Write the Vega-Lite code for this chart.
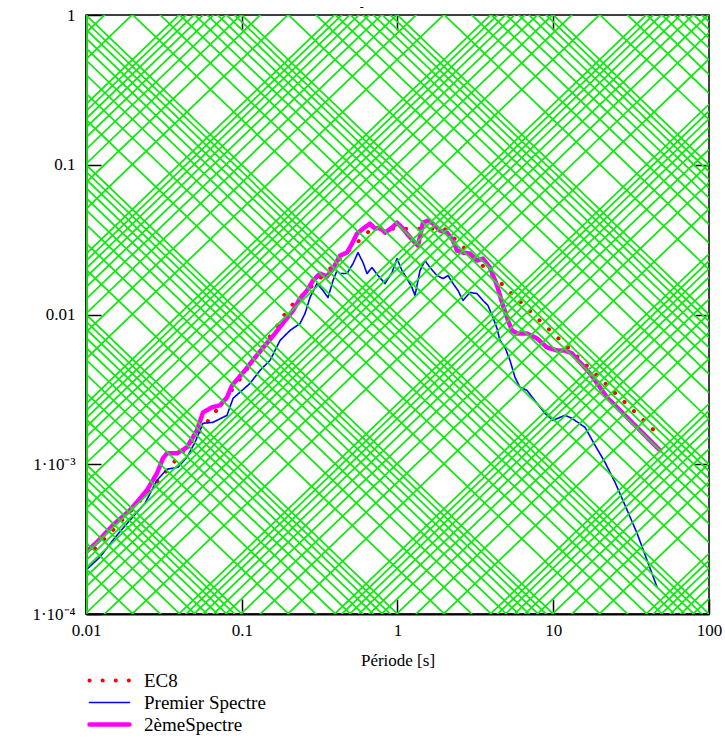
{
  "$schema": "https://vega.github.io/schema/vega-lite/v6.json",
  "width": 623,
  "height": 599,
  "autosize": {"type": "none"},
  "padding": {"left": 86, "top": 15, "right": 16, "bottom": 137},
  "background": "white",
  "config": {
    "font": "Liberation Serif, Times New Roman, serif",
    "view": {"stroke": "black", "strokeWidth": 1.5},
    "axis": {
      "grid": false,
      "domainColor": "black",
      "domainWidth": 2,
      "tickColor": "black",
      "tickWidth": 1.5,
      "labelColor": "black",
      "titleColor": "black",
      "labelFont": "Liberation Serif, Times New Roman, serif",
      "titleFont": "Liberation Serif, Times New Roman, serif",
      "titleFontWeight": "normal",
      "labelFlush": false,
      "labelOverlap": false
    }
  },
  "datasets": {
    "grid": [
      {"t0":0.0101,"v0":1e-4,"t1":0.0101,"v1":1},
      {"t0":0.01,"v0":1e-4,"t1":100,"v1":1e-8},{"t0":0.01,"v0":2e-4,"t1":100,"v1":2e-8},{"t0":0.01,"v0":3e-4,"t1":100,"v1":3e-8},{"t0":0.01,"v0":4e-4,"t1":100,"v1":4e-8},{"t0":0.01,"v0":5e-4,"t1":100,"v1":5e-8},{"t0":0.01,"v0":6e-4,"t1":100,"v1":6e-8},{"t0":0.01,"v0":7e-4,"t1":100,"v1":7e-8},{"t0":0.01,"v0":8e-4,"t1":100,"v1":8e-8},{"t0":0.01,"v0":9e-4,"t1":100,"v1":9e-8},
      {"t0":0.01,"v0":1e-3,"t1":100,"v1":1e-7},{"t0":0.01,"v0":2e-3,"t1":100,"v1":2e-7},{"t0":0.01,"v0":3e-3,"t1":100,"v1":3e-7},{"t0":0.01,"v0":4e-3,"t1":100,"v1":4e-7},{"t0":0.01,"v0":5e-3,"t1":100,"v1":5e-7},{"t0":0.01,"v0":6e-3,"t1":100,"v1":6e-7},{"t0":0.01,"v0":7e-3,"t1":100,"v1":7e-7},{"t0":0.01,"v0":8e-3,"t1":100,"v1":8e-7},{"t0":0.01,"v0":9e-3,"t1":100,"v1":9e-7},
      {"t0":0.01,"v0":1e-2,"t1":100,"v1":1e-6},{"t0":0.01,"v0":2e-2,"t1":100,"v1":2e-6},{"t0":0.01,"v0":3e-2,"t1":100,"v1":3e-6},{"t0":0.01,"v0":4e-2,"t1":100,"v1":4e-6},{"t0":0.01,"v0":5e-2,"t1":100,"v1":5e-6},{"t0":0.01,"v0":6e-2,"t1":100,"v1":6e-6},{"t0":0.01,"v0":7e-2,"t1":100,"v1":7e-6},{"t0":0.01,"v0":8e-2,"t1":100,"v1":8e-6},{"t0":0.01,"v0":9e-2,"t1":100,"v1":9e-6},
      {"t0":0.01,"v0":1e-1,"t1":100,"v1":1e-5},{"t0":0.01,"v0":2e-1,"t1":100,"v1":2e-5},{"t0":0.01,"v0":3e-1,"t1":100,"v1":3e-5},{"t0":0.01,"v0":4e-1,"t1":100,"v1":4e-5},{"t0":0.01,"v0":5e-1,"t1":100,"v1":5e-5},{"t0":0.01,"v0":6e-1,"t1":100,"v1":6e-5},{"t0":0.01,"v0":7e-1,"t1":100,"v1":7e-5},{"t0":0.01,"v0":8e-1,"t1":100,"v1":8e-5},{"t0":0.01,"v0":9e-1,"t1":100,"v1":9e-5},
      {"t0":0.01,"v0":1,"t1":100,"v1":1e-4},{"t0":0.01,"v0":2,"t1":100,"v1":2e-4},{"t0":0.01,"v0":3,"t1":100,"v1":3e-4},{"t0":0.01,"v0":4,"t1":100,"v1":4e-4},{"t0":0.01,"v0":5,"t1":100,"v1":5e-4},{"t0":0.01,"v0":6,"t1":100,"v1":6e-4},{"t0":0.01,"v0":7,"t1":100,"v1":7e-4},{"t0":0.01,"v0":8,"t1":100,"v1":8e-4},{"t0":0.01,"v0":9,"t1":100,"v1":9e-4},
      {"t0":0.01,"v0":10,"t1":100,"v1":1e-3},{"t0":0.01,"v0":20,"t1":100,"v1":2e-3},{"t0":0.01,"v0":30,"t1":100,"v1":3e-3},{"t0":0.01,"v0":40,"t1":100,"v1":4e-3},{"t0":0.01,"v0":50,"t1":100,"v1":5e-3},{"t0":0.01,"v0":60,"t1":100,"v1":6e-3},{"t0":0.01,"v0":70,"t1":100,"v1":7e-3},{"t0":0.01,"v0":80,"t1":100,"v1":8e-3},{"t0":0.01,"v0":90,"t1":100,"v1":9e-3},
      {"t0":0.01,"v0":100,"t1":100,"v1":1e-2},{"t0":0.01,"v0":200,"t1":100,"v1":2e-2},{"t0":0.01,"v0":300,"t1":100,"v1":3e-2},{"t0":0.01,"v0":400,"t1":100,"v1":4e-2},{"t0":0.01,"v0":500,"t1":100,"v1":5e-2},{"t0":0.01,"v0":600,"t1":100,"v1":6e-2},{"t0":0.01,"v0":700,"t1":100,"v1":7e-2},{"t0":0.01,"v0":800,"t1":100,"v1":8e-2},{"t0":0.01,"v0":900,"t1":100,"v1":9e-2},
      {"t0":0.01,"v0":1000,"t1":100,"v1":1e-1},{"t0":0.01,"v0":2000,"t1":100,"v1":2e-1},{"t0":0.01,"v0":3000,"t1":100,"v1":3e-1},{"t0":0.01,"v0":4000,"t1":100,"v1":4e-1},{"t0":0.01,"v0":5000,"t1":100,"v1":5e-1},{"t0":0.01,"v0":6000,"t1":100,"v1":6e-1},{"t0":0.01,"v0":7000,"t1":100,"v1":7e-1},{"t0":0.01,"v0":8000,"t1":100,"v1":8e-1},{"t0":0.01,"v0":9000,"t1":100,"v1":9e-1},

      {"t0":0.01,"v0":2.533e-9,"t1":100,"v1":2.533e-5},{"t0":0.01,"v0":5.066e-9,"t1":100,"v1":5.066e-5},{"t0":0.01,"v0":7.599e-9,"t1":100,"v1":7.599e-5},{"t0":0.01,"v0":1.0132e-8,"t1":100,"v1":1.0132e-4},{"t0":0.01,"v0":1.2665e-8,"t1":100,"v1":1.2665e-4},{"t0":0.01,"v0":1.5198e-8,"t1":100,"v1":1.5198e-4},{"t0":0.01,"v0":1.7731e-8,"t1":100,"v1":1.7731e-4},{"t0":0.01,"v0":2.0264e-8,"t1":100,"v1":2.0264e-4},{"t0":0.01,"v0":2.2797e-8,"t1":100,"v1":2.2797e-4},
      {"t0":0.01,"v0":2.533e-8,"t1":100,"v1":2.533e-4},{"t0":0.01,"v0":5.066e-8,"t1":100,"v1":5.066e-4},{"t0":0.01,"v0":7.599e-8,"t1":100,"v1":7.599e-4},{"t0":0.01,"v0":1.0132e-7,"t1":100,"v1":1.0132e-3},{"t0":0.01,"v0":1.2665e-7,"t1":100,"v1":1.2665e-3},{"t0":0.01,"v0":1.5198e-7,"t1":100,"v1":1.5198e-3},{"t0":0.01,"v0":1.7731e-7,"t1":100,"v1":1.7731e-3},{"t0":0.01,"v0":2.0264e-7,"t1":100,"v1":2.0264e-3},{"t0":0.01,"v0":2.2797e-7,"t1":100,"v1":2.2797e-3},
      {"t0":0.01,"v0":2.533e-7,"t1":100,"v1":2.533e-3},{"t0":0.01,"v0":5.066e-7,"t1":100,"v1":5.066e-3},{"t0":0.01,"v0":7.599e-7,"t1":100,"v1":7.599e-3},{"t0":0.01,"v0":1.0132e-6,"t1":100,"v1":1.0132e-2},{"t0":0.01,"v0":1.2665e-6,"t1":100,"v1":1.2665e-2},{"t0":0.01,"v0":1.5198e-6,"t1":100,"v1":1.5198e-2},{"t0":0.01,"v0":1.7731e-6,"t1":100,"v1":1.7731e-2},{"t0":0.01,"v0":2.0264e-6,"t1":100,"v1":2.0264e-2},{"t0":0.01,"v0":2.2797e-6,"t1":100,"v1":2.2797e-2},
      {"t0":0.01,"v0":2.533e-6,"t1":100,"v1":2.533e-2},{"t0":0.01,"v0":5.066e-6,"t1":100,"v1":5.066e-2},{"t0":0.01,"v0":7.599e-6,"t1":100,"v1":7.599e-2},{"t0":0.01,"v0":1.0132e-5,"t1":100,"v1":1.0132e-1},{"t0":0.01,"v0":1.2665e-5,"t1":100,"v1":1.2665e-1},{"t0":0.01,"v0":1.5198e-5,"t1":100,"v1":1.5198e-1},{"t0":0.01,"v0":1.7731e-5,"t1":100,"v1":1.7731e-1},{"t0":0.01,"v0":2.0264e-5,"t1":100,"v1":2.0264e-1},{"t0":0.01,"v0":2.2797e-5,"t1":100,"v1":2.2797e-1},
      {"t0":0.01,"v0":2.533e-5,"t1":100,"v1":2.533e-1},{"t0":0.01,"v0":5.066e-5,"t1":100,"v1":5.066e-1},{"t0":0.01,"v0":7.599e-5,"t1":100,"v1":7.599e-1},{"t0":0.01,"v0":1.0132e-4,"t1":100,"v1":1.0132},{"t0":0.01,"v0":1.2665e-4,"t1":100,"v1":1.2665},{"t0":0.01,"v0":1.5198e-4,"t1":100,"v1":1.5198},{"t0":0.01,"v0":1.7731e-4,"t1":100,"v1":1.7731},{"t0":0.01,"v0":2.0264e-4,"t1":100,"v1":2.0264},{"t0":0.01,"v0":2.2797e-4,"t1":100,"v1":2.2797},
      {"t0":0.01,"v0":2.533e-4,"t1":100,"v1":2.533},{"t0":0.01,"v0":5.066e-4,"t1":100,"v1":5.066},{"t0":0.01,"v0":7.599e-4,"t1":100,"v1":7.599},{"t0":0.01,"v0":1.0132e-3,"t1":100,"v1":10.132},{"t0":0.01,"v0":1.2665e-3,"t1":100,"v1":12.665},{"t0":0.01,"v0":1.5198e-3,"t1":100,"v1":15.198},{"t0":0.01,"v0":1.7731e-3,"t1":100,"v1":17.731},{"t0":0.01,"v0":2.0264e-3,"t1":100,"v1":20.264},{"t0":0.01,"v0":2.2797e-3,"t1":100,"v1":22.797},
      {"t0":0.01,"v0":2.533e-3,"t1":100,"v1":25.33},{"t0":0.01,"v0":5.066e-3,"t1":100,"v1":50.66},{"t0":0.01,"v0":7.599e-3,"t1":100,"v1":75.99},{"t0":0.01,"v0":1.0132e-2,"t1":100,"v1":101.32},{"t0":0.01,"v0":1.2665e-2,"t1":100,"v1":126.65},{"t0":0.01,"v0":1.5198e-2,"t1":100,"v1":151.98},{"t0":0.01,"v0":1.7731e-2,"t1":100,"v1":177.31},{"t0":0.01,"v0":2.0264e-2,"t1":100,"v1":202.64},{"t0":0.01,"v0":2.2797e-2,"t1":100,"v1":227.97},
      {"t0":0.01,"v0":2.533e-2,"t1":100,"v1":253.3},{"t0":0.01,"v0":5.066e-2,"t1":100,"v1":506.6},{"t0":0.01,"v0":7.599e-2,"t1":100,"v1":759.9},{"t0":0.01,"v0":1.0132e-1,"t1":100,"v1":1013.2},{"t0":0.01,"v0":1.2665e-1,"t1":100,"v1":1266.5},{"t0":0.01,"v0":1.5198e-1,"t1":100,"v1":1519.8},{"t0":0.01,"v0":1.7731e-1,"t1":100,"v1":1773.1},{"t0":0.01,"v0":2.0264e-1,"t1":100,"v1":2026.4},{"t0":0.01,"v0":2.2797e-1,"t1":100,"v1":2279.7},
      {"t0":0.01,"v0":2.533e-1,"t1":100,"v1":2533},{"t0":0.01,"v0":5.066e-1,"t1":100,"v1":5066},{"t0":0.01,"v0":7.599e-1,"t1":100,"v1":7599},{"t0":0.01,"v0":1.0132,"t1":100,"v1":10132},{"t0":0.01,"v0":1.2665,"t1":100,"v1":12665},{"t0":0.01,"v0":1.5198,"t1":100,"v1":15198},{"t0":0.01,"v0":1.7731,"t1":100,"v1":17731},{"t0":0.01,"v0":2.0264,"t1":100,"v1":20264},{"t0":0.01,"v0":2.2797,"t1":100,"v1":22797}
    ],
    "spectra": [
      {"s":"EC8","T":0.01,"Sv":2.361e-4},{"s":"EC8","T":0.015,"Sv":3.665e-4},{"s":"EC8","T":0.02,"Sv":5.05e-4},{"s":"EC8","T":0.03,"Sv":8.07e-4},{"s":"EC8","T":0.05,"Sv":1.51e-3},{"s":"EC8","T":0.07,"Sv":2.345e-3},{"s":"EC8","T":0.1,"Sv":3.844e-3},{"s":"EC8","T":0.15,"Sv":7.001e-3},{"s":"EC8","T":0.2,"Sv":1.098e-2},{"s":"EC8","T":0.68,"Sv":3.734e-2},{"s":"EC8","T":2.0,"Sv":3.734e-2},{"s":"EC8","T":5,"Sv":1.494e-2},{"s":"EC8","T":10,"Sv":7.47e-3},{"s":"EC8","T":20,"Sv":3.734e-3},{"s":"EC8","T":50,"Sv":1.494e-3},

      {"s":"Premier Spectre","T":0.01,"Sv":1.965e-4},{"s":"Premier Spectre","T":0.0123,"Sv":2.399e-4},{"s":"Premier Spectre","T":0.0149,"Sv":3.114e-4},{"s":"Premier Spectre","T":0.01728,"Sv":3.743e-4},{"s":"Premier Spectre","T":0.01917,"Sv":4.234e-4},{"s":"Premier Spectre","T":0.02392,"Sv":5.495e-4},{"s":"Premier Spectre","T":0.02857,"Sv":7.825e-4},{"s":"Premier Spectre","T":0.03312,"Sv":9.26e-4},{"s":"Premier Spectre","T":0.03897,"Sv":9.55e-4},{"s":"Premier Spectre","T":0.0445,"Sv":1.114e-3},{"s":"Premier Spectre","T":0.0501,"Sv":1.402e-3},{"s":"Premier Spectre","T":0.0564,"Sv":1.876e-3},{"s":"Premier Spectre","T":0.0654,"Sv":1.905e-3},{"s":"Premier Spectre","T":0.0804,"Sv":2.121e-3},{"s":"Premier Spectre","T":0.0879,"Sv":2.754e-3},{"s":"Premier Spectre","T":0.113,"Sv":3.467e-3},{"s":"Premier Spectre","T":0.131,"Sv":4.234e-3},{"s":"Premier Spectre","T":0.1519,"Sv":4.936e-3},{"s":"Premier Spectre","T":0.1761,"Sv":6.709e-3},{"s":"Premier Spectre","T":0.2041,"Sv":7.822e-3},{"s":"Premier Spectre","T":0.2366,"Sv":8.71e-3},{"s":"Premier Spectre","T":0.2548,"Sv":1.016e-2},{"s":"Premier Spectre","T":0.2743,"Sv":1.298e-2},{"s":"Premier Spectre","T":0.3042,"Sv":1.61e-2},{"s":"Premier Spectre","T":0.3324,"Sv":1.445e-2},{"s":"Premier Spectre","T":0.3579,"Sv":1.298e-2},{"s":"Premier Spectre","T":0.3854,"Sv":1.685e-2},{"s":"Premier Spectre","T":0.4088,"Sv":1.965e-2},{"s":"Premier Spectre","T":0.4274,"Sv":1.877e-2},{"s":"Premier Spectre","T":0.474,"Sv":1.877e-2},{"s":"Premier Spectre","T":0.518,"Sv":2.188e-2},{"s":"Premier Spectre","T":0.5577,"Sv":2.592e-2},{"s":"Premier Spectre","T":0.6005,"Sv":2.222e-2},{"s":"Premier Spectre","T":0.6371,"Sv":1.877e-2},{"s":"Premier Spectre","T":0.6859,"Sv":2.057e-2},{"s":"Premier Spectre","T":0.7496,"Sv":1.82e-2},{"s":"Premier Spectre","T":0.8313,"Sv":1.61e-2},{"s":"Premier Spectre","T":0.9219,"Sv":1.905e-2},{"s":"Premier Spectre","T":0.9926,"Sv":2.362e-2},{"s":"Premier Spectre","T":1.0687,"Sv":1.965e-2},{"s":"Premier Spectre","T":1.1507,"Sv":1.738e-2},{"s":"Premier Spectre","T":1.239,"Sv":1.514e-2},{"s":"Premier Spectre","T":1.2951,"Sv":1.339e-2},{"s":"Premier Spectre","T":1.3945,"Sv":1.965e-2},{"s":"Premier Spectre","T":1.5015,"Sv":2.291e-2},{"s":"Premier Spectre","T":1.6167,"Sv":2.057e-2},{"s":"Premier Spectre","T":1.7932,"Sv":1.82e-2},{"s":"Premier Spectre","T":1.9596,"Sv":1.738e-2},{"s":"Premier Spectre","T":2.1106,"Sv":1.82e-2},{"s":"Premier Spectre","T":2.2721,"Sv":1.61e-2},{"s":"Premier Spectre","T":2.4463,"Sv":1.445e-2},{"s":"Premier Spectre","T":2.6336,"Sv":1.24e-2},{"s":"Premier Spectre","T":2.9212,"Sv":1.402e-2},{"s":"Premier Spectre","T":3.239,"Sv":1.38e-2},{"s":"Premier Spectre","T":3.5393,"Sv":1.24e-2},{"s":"Premier Spectre","T":3.8111,"Sv":1.148e-2},{"s":"Premier Spectre","T":4.1035,"Sv":9.55e-3},{"s":"Premier Spectre","T":4.3532,"Sv":8.066e-3},{"s":"Premier Spectre","T":4.5507,"Sv":6.709e-3},{"s":"Premier Spectre","T":4.9,"Sv":6.026e-3},{"s":"Premier Spectre","T":5.276,"Sv":4.936e-3},{"s":"Premier Spectre","T":5.681,"Sv":3.802e-3},{"s":"Premier Spectre","T":6.1155,"Sv":3.261e-3},{"s":"Premier Spectre","T":6.7832,"Sv":3.114e-3},{"s":"Premier Spectre","T":7.8654,"Sv":2.55e-3},{"s":"Premier Spectre","T":8.8513,"Sv":2.188e-3},{"s":"Premier Spectre","T":9.9625,"Sv":1.965e-3},{"s":"Premier Spectre","T":11.897,"Sv":2.121e-3},{"s":"Premier Spectre","T":13.195,"Sv":2.026e-3},{"s":"Premier Spectre","T":15.989,"Sv":1.765e-3},{"s":"Premier Spectre","T":18.535,"Sv":1.339e-3},{"s":"Premier Spectre","T":21.49,"Sv":1.031e-3},{"s":"Premier Spectre","T":24.91,"Sv":7.586e-4},{"s":"Premier Spectre","T":28.88,"Sv":5.33e-4},{"s":"Premier Spectre","T":34.498,"Sv":3.467e-4},{"s":"Premier Spectre","T":39.99,"Sv":2.291e-4},{"s":"Premier Spectre","T":46.357,"Sv":1.514e-4},

      {"s":"2èmeSpectre","T":0.01,"Sv":2.59e-4},{"s":"2èmeSpectre","T":0.01177,"Sv":3.02e-4},{"s":"2èmeSpectre","T":0.0149,"Sv":3.92e-4},{"s":"2èmeSpectre","T":0.01917,"Sv":4.94e-4},{"s":"2èmeSpectre","T":0.02464,"Sv":6.71e-4},{"s":"2èmeSpectre","T":0.02857,"Sv":8.71e-4},{"s":"2èmeSpectre","T":0.03122,"Sv":1.097e-3},{"s":"2èmeSpectre","T":0.03312,"Sv":1.184e-3},{"s":"2èmeSpectre","T":0.0384,"Sv":1.184e-3},{"s":"2èmeSpectre","T":0.0445,"Sv":1.298e-3},{"s":"2èmeSpectre","T":0.0516,"Sv":1.685e-3},{"s":"2èmeSpectre","T":0.0564,"Sv":2.221e-3},{"s":"2èmeSpectre","T":0.0644,"Sv":2.399e-3},{"s":"2èmeSpectre","T":0.0725,"Sv":2.474e-3},{"s":"2èmeSpectre","T":0.0804,"Sv":2.797e-3},{"s":"2èmeSpectre","T":0.0866,"Sv":3.363e-3},{"s":"2èmeSpectre","T":0.1049,"Sv":4.234e-3},{"s":"2èmeSpectre","T":0.1217,"Sv":5.168e-3},{"s":"2èmeSpectre","T":0.1411,"Sv":6.213e-3},{"s":"2èmeSpectre","T":0.1635,"Sv":7.47e-3},{"s":"2èmeSpectre","T":0.1896,"Sv":9.12e-3},{"s":"2èmeSpectre","T":0.2134,"Sv":1.063e-2},{"s":"2èmeSpectre","T":0.2366,"Sv":1.278e-2},{"s":"2èmeSpectre","T":0.2624,"Sv":1.445e-2},{"s":"2èmeSpectre","T":0.2867,"Sv":1.685e-2},{"s":"2èmeSpectre","T":0.318,"Sv":1.877e-2},{"s":"2èmeSpectre","T":0.3527,"Sv":1.792e-2},{"s":"2èmeSpectre","T":0.3854,"Sv":2.026e-2},{"s":"2èmeSpectre","T":0.4274,"Sv":2.474e-2},{"s":"2èmeSpectre","T":0.474,"Sv":2.592e-2},{"s":"2èmeSpectre","T":0.5104,"Sv":2.974e-2},{"s":"2èmeSpectre","T":0.5495,"Sv":3.467e-2},{"s":"2èmeSpectre","T":0.6005,"Sv":3.744e-2},{"s":"2èmeSpectre","T":0.6659,"Sv":4.044e-2},{"s":"2èmeSpectre","T":0.717,"Sv":3.744e-2},{"s":"2èmeSpectre","T":0.772,"Sv":3.802e-2},{"s":"2èmeSpectre","T":0.8313,"Sv":3.521e-2},{"s":"2èmeSpectre","T":0.9219,"Sv":3.802e-2},{"s":"2èmeSpectre","T":0.9926,"Sv":4.106e-2},{"s":"2èmeSpectre","T":1.0687,"Sv":3.802e-2},{"s":"2èmeSpectre","T":1.1507,"Sv":3.467e-2},{"s":"2èmeSpectre","T":1.2574,"Sv":3.114e-2},{"s":"2èmeSpectre","T":1.3539,"Sv":2.884e-2},{"s":"2èmeSpectre","T":1.4578,"Sv":4.106e-2},{"s":"2èmeSpectre","T":1.5696,"Sv":4.234e-2},{"s":"2èmeSpectre","T":1.69,"Sv":4.044e-2},{"s":"2èmeSpectre","T":1.8745,"Sv":3.631e-2},{"s":"2èmeSpectre","T":2.0796,"Sv":3.521e-2},{"s":"2èmeSpectre","T":2.2721,"Sv":3.114e-2},{"s":"2èmeSpectre","T":2.4103,"Sv":2.672e-2},{"s":"2èmeSpectre","T":2.6336,"Sv":2.592e-2},{"s":"2èmeSpectre","T":2.9212,"Sv":2.551e-2},{"s":"2èmeSpectre","T":3.239,"Sv":2.291e-2},{"s":"2èmeSpectre","T":3.5393,"Sv":2.362e-2},{"s":"2èmeSpectre","T":3.9255,"Sv":2.057e-2},{"s":"2èmeSpectre","T":4.3532,"Sv":1.561e-2},{"s":"2èmeSpectre","T":4.7571,"Sv":1.148e-2},{"s":"2èmeSpectre","T":5.1222,"Sv":9.12e-3},{"s":"2èmeSpectre","T":5.435,"Sv":7.822e-3},{"s":"2èmeSpectre","T":5.852,"Sv":7.47e-3},{"s":"2èmeSpectre","T":6.7832,"Sv":7.47e-3},{"s":"2èmeSpectre","T":7.8654,"Sv":6.918e-3},{"s":"2èmeSpectre","T":9.1171,"Sv":6.026e-3},{"s":"2èmeSpectre","T":10.57,"Sv":5.754e-3},{"s":"2èmeSpectre","T":11.897,"Sv":5.754e-3},{"s":"2èmeSpectre","T":13.195,"Sv":5.495e-3},{"s":"2èmeSpectre","T":14.851,"Sv":4.786e-3},{"s":"2èmeSpectre","T":17.218,"Sv":4.044e-3},{"s":"2èmeSpectre","T":19.966,"Sv":3.261e-3},{"s":"2èmeSpectre","T":22.135,"Sv":2.797e-3},{"s":"2èmeSpectre","T":25.666,"Sv":2.399e-3},{"s":"2èmeSpectre","T":29.758,"Sv":2.057e-3},{"s":"2èmeSpectre","T":34.498,"Sv":1.765e-3},{"s":"2èmeSpectre","T":41.8,"Sv":1.445e-3},{"s":"2èmeSpectre","T":48.456,"Sv":1.24e-3}
    ],
    "heading": [
      {"T": 0.59, "Sv": 1.13, "txt": "-"}
    ]
  },
  "layer": [
    {
      "data": {"name": "spectra"},
      "mark": {"type": "line", "clip": true, "strokeCap": "round", "strokeJoin": "round"},
      "encoding": {
        "x": {
          "field": "T", "type": "quantitative",
          "scale": {"type": "log", "domain": [0.01, 100], "nice": false},
          "axis": {"orient": "bottom", "title": "Période [s]", "values": [0.01, 0.1, 1, 10, 100], "format": "~g", "tickSize": -15, "labelPadding": 23, "labelFontSize": 17, "titleFontSize": 17, "titlePadding": 14}
        },
        "y": {
          "field": "Sv", "type": "quantitative",
          "scale": {"type": "log", "domain": [0.0001, 1], "nice": false},
          "axis": {"orient": "left", "title": null, "values": [0.0001, 0.001, 0.01, 0.1, 1], "labelExpr": "datum.value >= 0.5 ? '1' : datum.value >= 0.05 ? '0.1' : datum.value >= 0.005 ? '0.01' : datum.value >= 0.0005 ? '1·10⁻³' : '1·10⁻⁴'", "tickSize": -15, "labelPadding": 26, "labelFontSize": 17}
        },
        "color": {
          "field": "s", "type": "nominal",
          "scale": {"domain": ["EC8", "Premier Spectre", "2èmeSpectre"], "range": ["#ff0000", "#0000ff", "#ff00ff"]},
          "legend": {
            "orient": "none", "legendX": 14, "legendY": 656, "title": null, "padding": 0,
            "symbolType": "M-4,0H4", "symbolSize": 100, "labelFontSize": 19,
            "labelFont": "Liberation Serif, Times New Roman, serif",
            "labelColor": "black", "rowPadding": 2, "labelOffset": 25,
            "encode": {"symbols": {"update": {
              "strokeCap": {"value": "round"},
              "fill": {"value": "transparent"},
              "strokeDash": {"signal": "datum.value === 'EC8' ? [0.1, 8] : [1, 0]"}
            }}}
          }
        },
        "strokeDash": {
          "field": "s", "type": "nominal",
          "scale": {"type": "ordinal", "domain": ["EC8", "Premier Spectre", "2èmeSpectre"], "range": [[0.1, 13], [1, 0], [1, 0]]}
        },
        "strokeWidth": {
          "field": "s", "type": "nominal",
          "scale": {"type": "ordinal", "domain": ["EC8", "Premier Spectre", "2èmeSpectre"], "range": [4, 1.6, 4.5]}
        }
      }
    },
    {
      "data": {"name": "grid"},
      "mark": {"type": "rule", "clip": true, "color": "#14e614", "strokeWidth": 1.8},
      "encoding": {
        "x": {
          "field": "t0", "type": "quantitative",
          "scale": {"type": "log", "domain": [0.01, 100], "nice": false},
          "axis": {"orient": "top", "labels": false, "title": null, "domain": false, "values": [0.1, 1, 10], "tickSize": -15}
        },
        "y": {
          "field": "v0", "type": "quantitative",
          "scale": {"type": "log", "domain": [0.0001, 1], "nice": false},
          "axis": {"orient": "right", "labels": false, "title": null, "domain": false, "values": [0.001, 0.01, 0.1], "tickSize": -15}
        },
        "x2": {"field": "t1"},
        "y2": {"field": "v1"}
      }
    },
    {
      "data": {"name": "heading"},
      "mark": {"type": "text", "clip": false, "fontSize": 12, "color": "black", "baseline": "middle", "align": "center"},
      "encoding": {
        "x": {"field": "T", "type": "quantitative", "scale": {"type": "log", "domain": [0.01, 100], "nice": false}, "axis": null},
        "y": {"field": "Sv", "type": "quantitative", "scale": {"type": "log", "domain": [0.0001, 1], "nice": false}, "axis": null},
        "text": {"field": "txt"}
      }
    }
  ],
  "resolve": {"axis": {"x": "independent", "y": "independent"}}
}
